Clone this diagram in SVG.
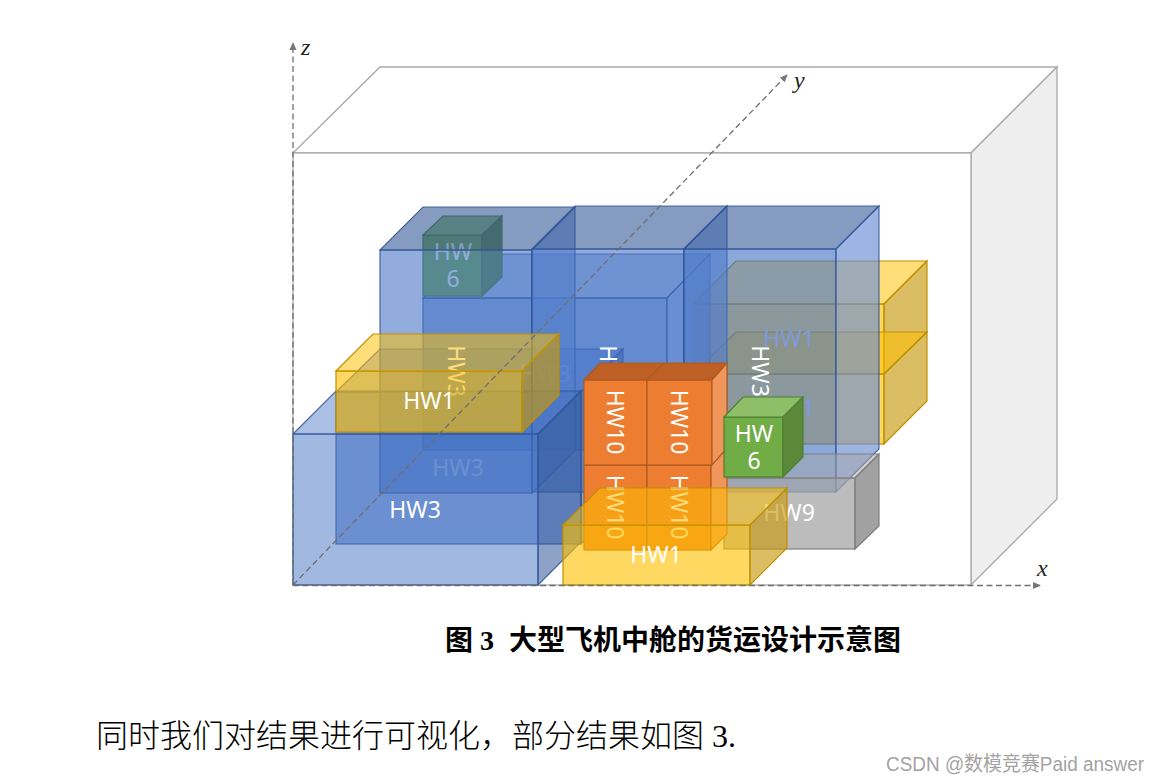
<svg xmlns="http://www.w3.org/2000/svg" width="1160" height="784" viewBox="0 0 1160 784">
<style>
.cf{fill:#fff;stroke:#a9a9a9;stroke-width:1.3}
.cs{fill:#eee;stroke:#a9a9a9;stroke-width:1.3}
.bl polygon,.bl rect{stroke:#2F5597;stroke-width:1.2;stroke-opacity:.85}
.f{fill:#4472C4;fill-opacity:.58}
.td{fill:#365896;fill-opacity:.6}
.sl{fill:#6A8ED6;fill-opacity:.65}
.tl{fill:#4472C4;fill-opacity:.45}
.sd{fill:#2F5597;fill-opacity:.55}
.ye polygon,.ye rect{stroke:#BF9000;stroke-width:1.2}
.yf{fill:#FFC000;fill-opacity:.62}
.yt{fill:#FFC000;fill-opacity:.52}
.ys{fill:#C79A10;fill-opacity:.65}
.gy polygon,.gy rect{stroke:#7F7F7F;stroke-width:1.2}
.or polygon,.or rect{stroke:#AE5A21;stroke-width:1.2}
.gr polygon,.gr rect{stroke:#507E32;stroke-width:1.2}
.lb{font-family:"Noto Sans","Open Sans",sans-serif;font-size:23px;fill:#fff;text-anchor:middle}
.lbb{fill:#7F9ADB}
.ax{fill:none;stroke:#6f6f6f;stroke-width:1.3;stroke-dasharray:6 3.5;marker-end:url(#ah)}
.it{font-family:"Liberation Serif",serif;font-style:italic;font-size:24px;fill:#222}
.cn{font-family:"Liberation Serif","Noto Sans CJK SC",sans-serif;fill:#000}
</style>
<defs><marker id="ah" markerWidth="8" markerHeight="8" refX="7" refY="4" orient="auto" markerUnits="userSpaceOnUse"><path d="M0 0.5L8 4L0 7.5Z" fill="#777"/></marker></defs>
<rect width="1160" height="784" fill="#fff"/>
<g id="container">
<polygon class="cf" points="293,153 380,67 1057,67 971,153"/>
<polygon class="cs" points="971,153 1057,67 1057,499 971,585"/>
<rect class="cf" x="293" y="153" width="678" height="432"/>
</g>
<g id="hw1-right-top" class="ye">
<rect class="yf" x="693" y="304" width="191" height="70"/>
<polygon class="yt" points="693,304 736,261 927,261 884,304"/>
<polygon class="ys" points="884,304 927,261 927,332 884,374"/>
</g>
<g id="hw1-right-bottom" class="ye">
<rect class="yf" x="693" y="374" width="191" height="70"/>
<polygon class="yt" points="693,374 736,332 927,332 884,374"/>
<polygon class="ys" points="884,374 927,332 927,401 884,444"/>
</g>
<g id="hw3-d" class="bl">
<rect class="f" x="423" y="298" width="244" height="152"/>
<polygon class="tl" points="423,298 467,254 710,254 667,298"/>
<polygon class="sl" points="667,298 710,254 710,406 667,450"/>
<text class="lb" x="545" y="382">HW3</text>
</g>
<g id="hw3-e" class="bl">
<rect class="f" x="336" y="392" width="245" height="152"/>
<polygon class="tl" points="336,392 380,349 623,349 581,392"/>
<polygon class="sd" points="581,392 623,349 623,501 581,544"/>
<text class="lb" x="458" y="476">HW3</text>
</g>
<g id="hw6-back" class="gr">
<rect x="423" y="235" width="59" height="61" fill="#70AD47"/>
<polygon points="423,235 443,216 502,216 482,235" fill="#8DBE68"/>
<polygon points="482,235 502,216 502,277 482,296" fill="#5A8A39"/>
<text class="lb" x="453" y="260">HW<tspan x="453" dy="27">6</tspan></text>
</g>
<g id="hw3-a" class="bl">
<rect class="f" x="380" y="250" width="152" height="243"/>
<polygon class="td" points="380,250 423,207 575,207 532,250"/>
<polygon class="sl" points="532,250 575,207 575,450 532,493"/>
<text class="lb" transform="translate(448,371) rotate(90)">HW3</text>
</g>
<g id="hw3-b" class="bl">
<rect class="f" x="532" y="249" width="152" height="243"/>
<polygon class="td" points="532,249 575,206 727,206 684,249"/>
<polygon class="sl" points="684,249 727,206 727,449 684,492"/>
<text class="lb" transform="translate(600,371) rotate(90)">HW3</text>
</g>
<g id="hw3-c" class="bl">
<rect class="f" x="684" y="249" width="152" height="243" style="fill-opacity:.62"/>
<polygon class="td" points="684,249 727,206 879,206 836,249"/>
<polygon class="sl" points="836,249 879,206 879,449 836,492"/>
<text class="lb" transform="translate(752,371) rotate(90)">HW3</text>
</g>
<g id="hw1-right-labels">
<text class="lb lbb" x="789" y="347">HW1</text>
<text class="lb lbb" x="789" y="417">HW1</text>
</g>
<g id="hw9" class="gy">
<rect x="724" y="478" width="131" height="71" fill="#A5A5A5" fill-opacity=".75"/>
<polygon points="724,478 748,454 879,454 855,478" fill="#A5A5A5" fill-opacity=".5"/>
<polygon points="855,478 879,454 879,526 855,549" fill="#8a8a8a" fill-opacity=".8"/>
<text class="lb" x="789" y="521">HW9</text>
</g>
<g id="hw3-front" class="bl">
<rect x="293" y="434" width="245" height="151" fill="#4472C4" fill-opacity=".5"/>
<polygon class="tl" points="293,434 336,391 581,391 538,434"/>
<polygon class="sd" points="538,434 581,391 581,542 538,585"/>
<text class="lb" x="415" y="518">HW3</text>
</g>
<g id="hw1-left" class="ye">
<rect class="yf" x="336" y="371" width="186" height="61"/>
<polygon class="yt" points="336,371 373,334 559,334 522,371"/>
<polygon class="ys" points="522,371 559,334 559,395 522,432"/>
<text class="lb" x="429" y="409">HW1</text>
</g>
<g id="hw10-lower" class="or">
<rect x="584" y="465" width="63" height="85" fill="#ED7D31"/>
<rect x="647" y="465" width="64" height="85" fill="#ED7D31"/>
<polygon points="711,465 727,448 727,534 711,550" fill="#F1965A"/>
<text class="lb" transform="translate(607,507) rotate(90)">HW10</text>
<text class="lb" transform="translate(671,507) rotate(90)">HW10</text>
</g>
<g id="hw10-upper" class="or">
<rect x="584" y="380" width="63" height="85" fill="#ED7D31"/>
<rect x="647" y="380" width="65" height="85" fill="#ED7D31"/>
<polygon points="584,380 600,363 664,363 647,380" fill="#BE5F25"/>
<polygon points="647,380 664,363 727,363 712,380" fill="#BE5F25"/>
<polygon points="712,380 727,363 727,448 712,465" fill="#F1965A"/>
<text class="lb" transform="translate(607,422) rotate(90)">HW10</text>
<text class="lb" transform="translate(671,422) rotate(90)">HW10</text>
</g>
<g id="hw6-front" class="gr">
<rect x="724" y="417" width="59" height="60" fill="#70AD47"/>
<polygon points="724,417 743,397 803,397 783,417" fill="#8DBE68"/>
<polygon points="783,417 803,397 803,457 783,477" fill="#5A8A39"/>
<text class="lb" x="754" y="442">HW<tspan x="754" dy="27">6</tspan></text>
</g>
<g id="hw1-front" class="ye">
<rect class="yf" x="563" y="525" width="187" height="60"/>
<polygon class="yt" points="563,525 600,488 787,488 750,525"/>
<polygon class="ys" points="750,525 787,488 787,548 750,585"/>
<text class="lb" x="656" y="563">HW1</text>
</g>
<g id="connectors">
<path class="ax" d="M293 585V43"/>
<path class="ax" d="M293 585.5H1040"/>
<path class="ax" d="M293 585L787 75"/>
</g>
<text class="it" x="301" y="55">z</text>
<text class="it" x="794" y="88">y</text>
<text class="it" x="1037" y="576">x</text>
<text class="cn" x="445" y="650" font-size="28" font-weight="700">图 3</text>
<text class="cn" x="509" y="650" font-size="28" font-weight="700">大型飞机中舱的货运设计示意图</text>
<text class="cn" x="96" y="747" font-size="32" font-weight="300">同时我们对结果进行可视化，部分结果如图 3.</text>
<text x="886" y="771" font-family="'Liberation Sans','Noto Sans CJK SC',sans-serif" font-size="20" fill="#a3a3a3" textLength="258" lengthAdjust="spacingAndGlyphs">CSDN @数模竞赛Paid answer</text>
</svg>
